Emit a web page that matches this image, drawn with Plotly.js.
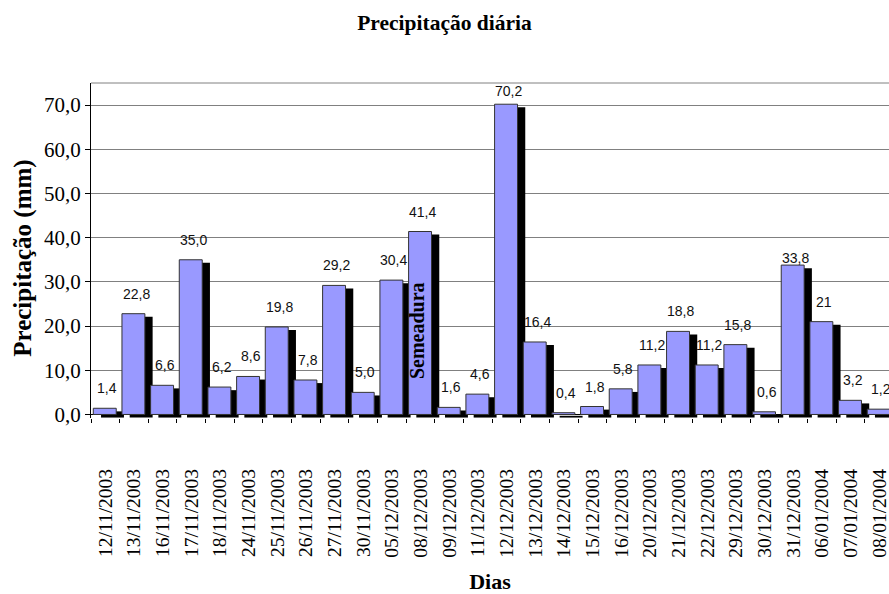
<!DOCTYPE html>
<html>
<head>
<meta charset="utf-8">
<script src="https://cdn.plot.ly/plotly-3.0.1.min.js"></script>
<style>
html, body { margin: 0; padding: 0; overflow: hidden; background: #fff; }
#chart { width: 889px; height: 594px; }
</style>
</head>
<body>
<div id="chart"></div>
<script>
// ---- data ----
var dias = ["12/11/2003","13/11/2003","16/11/2003","17/11/2003","18/11/2003","24/11/2003",
  "25/11/2003","26/11/2003","27/11/2003","30/11/2003","05/12/2003","08/12/2003",
  "09/12/2003","11/12/2003","12/12/2003","13/12/2003","14/12/2003","15/12/2003",
  "16/12/2003","20/12/2003","21/12/2003","22/12/2003","29/12/2003","30/12/2003",
  "31/12/2003","06/01/2004","07/01/2004","08/01/2004"];
var precipitacao = [1.4, 22.8, 6.6, 35.0, 6.2, 8.6, 19.8, 7.8, 29.2, 5.0, 30.4, 41.4,
  1.6, 4.6, 70.2, 16.4, 0.4, 1.8, 5.8, 11.2, 18.8, 11.2, 15.8, 0.6, 33.8, 21, 3.2, 1.2];
var rotulos = ["1,4","22,8","6,6","35,0","6,2","8,6","19,8","7,8","29,2","5,0","30,4","41,4",
  "1,6","4,6","70,2","16,4","0,4","1,8","5,8","11,2","18,8","11,2","15,8","0,6",
  "33,8","21","3,2","1,2"];
var yTicks = [0, 10, 20, 30, 40, 50, 60, 70];
var marcoDia = "08/12/2003";
var marcoTexto = "Semeadura";

// ---- chart ----
var serif = "Liberation Serif, Times New Roman, serif";
var sans = "Liberation Sans, Arial, sans-serif";

var shadow = {
  type: "bar", x: dias, y: precipitacao, base: -0.7,
  width: 0.8, offset: -0.15,
  marker: { color: "#000000", line: { width: 0 } },
  hoverinfo: "skip", showlegend: false
};
var bars = {
  type: "bar", x: dias, y: precipitacao,
  width: 0.8, offset: -0.42,
  marker: { color: "#9999FF", line: { color: "#333333", width: 1 } },
  showlegend: false
};

var labelShift = {};
labelShift[precipitacao.indexOf(70.2)] = 13;
labelShift[precipitacao.indexOf(33.8)] = 7;

var annotations = dias.map(function (d, i) {
  return {
    x: d, y: precipitacao[i], xref: "x", yref: "y",
    text: rotulos[i], showarrow: false,
    xanchor: "center", yanchor: "middle",
    xshift: 2, yshift: (labelShift[i] !== undefined ? labelShift[i] : 20),
    font: { family: sans, size: 14, color: "#111111" }
  };
});
annotations.push({
  x: marcoDia, y: 19, xref: "x", yref: "y", text: "<b>" + marcoTexto + "</b>",
  showarrow: false, textangle: -90, xshift: -3,
  font: { family: serif, size: 20, color: "#000000" }
});
// y-axis title (placed like the original, slightly below the plot centre)
annotations.push({
  xref: "paper", yref: "paper", x: (23 - 91) / 798, y: (418.5 - 259) / 335.5,
  xanchor: "center", yanchor: "middle", textangle: -90, showarrow: false,
  text: "<b>Precipitação (mm)</b>",
  font: { family: serif, size: 25, color: "#000" }
});

var layout = {
  width: 889, height: 594,
  margin: { l: 91, r: 0, t: 83, b: 175.5 },
  paper_bgcolor: "#ffffff", plot_bgcolor: "#ffffff",
  separators: ", ",
  barmode: "overlay",
  title: {
    text: "<b>Precipitação diária</b>",
    font: { family: serif, size: 21.5, color: "#000000" },
    x: 0.5, xref: "container", xanchor: "center",
    y: 1 - 22 / 594, yref: "container", yanchor: "middle"
  },
  xaxis: {
    type: "category",
    range: [-0.5, 27.34],
    tickangle: -90,
    ticks: "outside", tickson: "boundaries", ticklen: 4, tickcolor: "#000",
    ticklabelstandoff: 46,
    showgrid: false, showline: false, zeroline: false,
    tickfont: { family: serif, size: 19.5, color: "#000" },
    title: { text: "<b>Dias</b>", font: { family: serif, size: 22, color: "#000" }, standoff: 18 },
    automargin: false
  },
  yaxis: {
    range: [-0.8, 75],
    tickvals: yTicks,
    tickformat: ".1f",
    ticks: "outside", ticklen: 5, tickcolor: "#000",
    showline: true, linecolor: "#000", linewidth: 1,
    showgrid: true, gridcolor: "#808080", gridwidth: 1,
    zeroline: true, zerolinecolor: "#000", zerolinewidth: 1,
    tickfont: { family: serif, size: 21, color: "#000" },
    automargin: false
  },
  shapes: [{
    type: "line", xref: "paper", yref: "paper", x0: 0, x1: 1, y0: 1, y1: 1,
    line: { color: "#808080", width: 1 }
  }],
  annotations: annotations
};

Plotly.newPlot("chart", [shadow, bars], layout, { displayModeBar: false, staticPlot: true });
</script>
</body>
</html>
